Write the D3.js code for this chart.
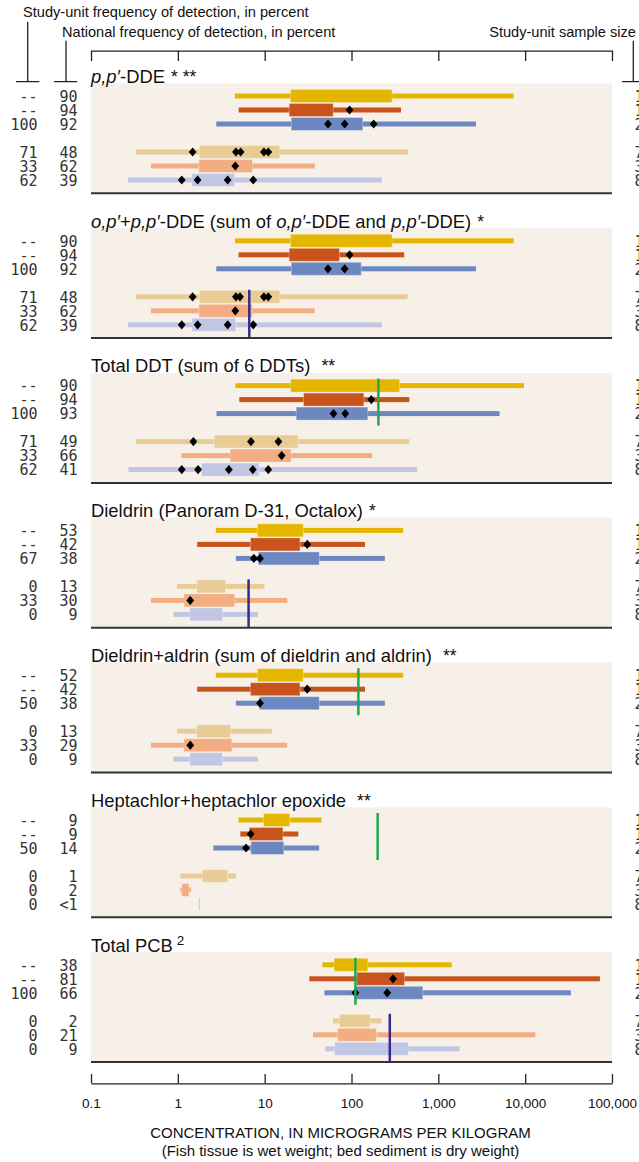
<!DOCTYPE html>
<html>
<head>
<meta charset="utf-8">
<script src="https://cdn.jsdelivr.net/npm/d3@7"></script>
<style>
  body { margin: 0; background: #fff; }
  svg { display: block; }
</style>
</head>
<body>
<svg id="chart" width="639" height="1162"></svg>
<script>
// ---- data ----
// concentration ticks (micrograms per kilogram)
var tickValues = [0.1, 1, 10, 100, 1000, 10000, 100000];

// six rows per panel: three fish tissue rows, then three bed sediment rows
var rowNames = ["Fish, national", "Fish, national 2", "Fish, study unit",
                "Sediment, national", "Sediment, national 2", "Sediment, study unit"];
var rowColors = ["#e4b600", "#c8531c", "#6d88c1", "#e8cc95", "#f2ae82", "#c1c6e4"];

var panelTitles = [
  [["p,p′", true], ["-DDE", false]],
  [["o,p′", true], ["+", false], ["p,p′", true], ["-DDE (sum of ", false], ["o,p′", true],
   ["-DDE and ", false], ["p,p′", true], ["-DDE)", false]],
  [["Total DDT (sum of 6 DDTs)", false]],
  [["Dieldrin (Panoram D-31, Octalox)", false]],
  [["Dieldrin+aldrin (sum of dieldrin and aldrin)", false]],
  [["Heptachlor+heptachlor epoxide", false]],
  [["Total PCB", false]]
];
var panelMarks = ["* **", "*", "**", "*", "**", "**", "2"];

// study-unit and national frequency of detection, percent
var studyFreq = [
  ["--", "--", "100", "71", "33", "62"],
  ["--", "--", "100", "71", "33", "62"],
  ["--", "--", "100", "71", "33", "62"],
  ["--", "--", "67", "0", "33", "0"],
  ["--", "--", "50", "0", "33", "0"],
  ["--", "--", "50", "0", "0", "0"],
  ["--", "--", "100", "0", "0", "0"]
];
var nationalFreq = [
  ["90", "94", "92", "48", "62", "39"],
  ["90", "94", "92", "48", "62", "39"],
  ["90", "94", "93", "49", "66", "41"],
  ["53", "42", "38", "13", "30", "9"],
  ["52", "42", "38", "13", "29", "9"],
  ["9", "9", "14", "1", "2", "<1"],
  ["38", "81", "66", "2", "21", "9"]
];
var sampleSize = ["12", "11", "21", "7", "3", "8"];

// [min, 25th, 75th, max] of detected concentrations
var ppDDE = [[4.55, 20.1, 290, 7360], [5.02, 19.4, 60.7, 371], [2.77, 20.5, 133, 2710],
             [0.327, 1.80, 14.7, 443], [0.49, 1.77, 7.14, 37.7], [0.267, 1.47, 4.43, 224]];
var sumDDE = [[4.55, 20.1, 290, 7360], [5.0, 19.4, 71.7, 405], [2.77, 20.5, 128, 2710],
              [0.327, 1.80, 14.7, 443], [0.49, 1.77, 7.14, 37.7], [0.267, 1.47, 4.59, 224]];
var totalDDT = [[4.6, 20.2, 354, 9680], [5.1, 28.4, 137, 464], [2.79, 23.4, 152, 5070],
                [0.33, 2.66, 23.9, 464], [1.10, 4.05, 19.9, 173], [0.27, 1.90, 8.46, 569]];
var dieldrin = [[2.74, 8.37, 27.5, 394], [1.67, 6.95, 25.2, 143], [4.66, 8.55, 42, 242],
                [0.98, 1.67, 3.52, 9.95], [0.49, 1.19, 4.47, 18.2], [0.89, 1.39, 3.22, 8.37]];
var dieldrinAldrin = [[2.74, 8.37, 27.5, 394], [1.67, 6.95, 25.2, 143], [4.66, 8.83, 42, 242],
                      [0.98, 1.67, 4.0, 12.1], [0.49, 1.19, 4.14, 18.2], [0.89, 1.39, 3.22, 8.37]];
var heptachlor = [[4.98, 9.84, 19.2, 45.2], [5.25, 6.73, 16.0, 24.4], [2.57, 7.03, 16.4, 42.4],
                  [1.07, 1.94, 3.71, 4.66], [1.07, 1.13, 1.33, 1.42], [1.76, 1.76, 1.76, 1.76]];
var totalPCB = [[46.2, 64, 152, 1426], [32.7, 117, 403, 72600], [48.8, 110, 654, 33600],
                [61.1, 73.6, 162, 222], [36, 69.8, 191, 13100], [49.9, 64.7, 444, 1754]];
var panelRanges = [ppDDE, sumDDE, totalDDT, dieldrin, dieldrinAldrin, heptachlor, totalPCB];

// study-unit site values (diamonds)
var sitesDDE = [[], [95], [53.6, 83.4, 180], [1.48, 4.67, 5.29, 9.8, 11.0], [4.59], [1.11, 1.69, 3.75, 7.39]];
var sitesSumDDE = [[], [95], [53.6, 83.4], [1.48, 4.67, 5.2, 9.8, 11.0], [4.59], [1.11, 1.69, 3.75, 7.39]];
var sitesDDT = [[], [169], [62, 84.7], [1.51, 6.95, 14.4], [15.7], [1.11, 1.71, 3.87, 7.3, 11.0]];
var sitesDieldrin = [[], [30.9], [7.51, 8.83], [], [1.39], []];
var sitesDieldrinAldrin = [[], [30.9], [8.83], [], [1.39], []];
var sitesHeptachlor = [[], [6.9], [6.1], [], [], []];
var sitesPCB = [[], [301], [111, 258], [], [], []];
var panelSites = [sitesDDE, sitesSumDDE, sitesDDT, sitesDieldrin, sitesDieldrinAldrin, sitesHeptachlor, sitesPCB];

// guidelines: fish (green) and sediment (purple)
var fishGuide = [null, null, 204, null, 120, 200, 111];
var sedimentGuide = [null, 6.65, null, 6.53, null, null, 276];

// ---- layout ----
var LEFT = 91, RIGHT = 612;
var PANEL0_BOTTOM = 193.3, PANEL_STEP = 144.8, BG_HEIGHT = 110;
var ROW_OFFSETS = [-97.3, -83.3, -69.3, -41.3, -27.3, -13.3];
var BOX_H = 13, WHISKER_H = 5;
var SANS = "'Liberation Sans', Arial, Helvetica, sans-serif";
var MONO = "'DejaVu Sans Mono', monospace";

var svg = d3.select("#chart");
var x = d3.scaleLog().domain([0.1, 100000]).range([LEFT, RIGHT]);

// headers
svg.append("text").attr("x", 23).attr("y", 16.5)
  .attr("font-family", SANS).attr("font-size", 14.6).attr("fill", "#111")
  .text("Study-unit frequency of detection, in percent");
svg.append("text").attr("x", 62).attr("y", 36.5)
  .attr("font-family", SANS).attr("font-size", 14.6).attr("fill", "#111")
  .text("National frequency of detection, in percent");
svg.append("text").attr("x", 636).attr("y", 36.5).attr("text-anchor", "end")
  .attr("font-family", SANS).attr("font-size", 14.6).attr("fill", "#111")
  .text("Study-unit sample size");

var brackets = [[27.7, 21.7, 16, 39.3], [66, 40.7, 54, 77.3], [633.3, 40.7, 622, 645]];
brackets.forEach(function(b) {
  svg.append("path")
    .attr("d", "M" + b[0] + "," + b[1] + "V81.7M" + b[2] + ",81.7H" + b[3])
    .attr("stroke", "#222").attr("stroke-width", 1.3).attr("fill", "none");
});

// top axis (ticks only)
var topAxis = svg.append("g").attr("transform", "translate(0,50.7)")
  .call(d3.axisBottom(x).tickValues(tickValues).tickSize(10.3).tickSizeOuter(0).tickFormat(""));
topAxis.selectAll("path, line").attr("stroke", "#222").attr("stroke-width", 1.3);

var diamond = "M0,-4.6L3.9,0L0,4.6L-3.9,0Z";

panelRanges.forEach(function(ranges, p) {
  var bottom = PANEL0_BOTTOM + p * PANEL_STEP;
  var top = bottom - BG_HEIGHT;
  var g = svg.append("g");

  g.append("rect").attr("x", LEFT).attr("y", top)
    .attr("width", RIGHT - LEFT).attr("height", BG_HEIGHT).attr("fill", "#f7f0e8");

  // title
  var title = g.append("text").attr("x", LEFT).attr("y", top - 0.5)
    .attr("font-family", SANS).attr("font-size", 18.4).attr("fill", "#111");
  panelTitles[p].forEach(function(part) {
    title.append("tspan").attr("font-style", part[1] ? "italic" : "normal").text(part[0]);
  });
  if (panelMarks[p] === "2") {
    title.append("tspan").attr("dx", 4).attr("dy", -7).attr("font-size", 13.5).text("2");
  } else {
    title.append("tspan").attr("dx", panelMarks[p] === "**" ? 11 : 6)
      .attr("font-size", 17.5).text(panelMarks[p]);
  }

  ranges.forEach(function(r, i) {
    var cy = bottom + ROW_OFFSETS[i];
    var col = rowColors[i];
    g.append("rect")
      .attr("x", x(r[0])).attr("y", cy - WHISKER_H / 2)
      .attr("width", Math.max(x(r[3]) - x(r[0]), 0)).attr("height", WHISKER_H)
      .attr("fill", col);
    g.append("rect")
      .attr("x", x(r[1]) - 0.5).attr("y", cy - BOX_H / 2)
      .attr("width", Math.max(x(r[2]) - x(r[1]) + 1, 1.5)).attr("height", BOX_H)
      .attr("fill", col)
      .attr("stroke", "rgba(255,255,255,0.3)").attr("stroke-width", 1);

    g.selectAll(null).data(panelSites[p][i]).enter().append("path")
      .attr("d", diamond)
      .attr("transform", function(d) { return "translate(" + x(d) + "," + cy + ")"; })
      .attr("fill", "#000");

    g.append("text").attr("x", 37.5).attr("y", cy + 5.7).attr("text-anchor", "end")
      .attr("font-family", MONO).attr("font-size", 15).attr("fill", "#333")
      .text(studyFreq[p][i]);
    g.append("text").attr("x", 77.5).attr("y", cy + 5.7).attr("text-anchor", "end")
      .attr("font-family", MONO).attr("font-size", 15).attr("fill", "#333")
      .text(nationalFreq[p][i]);
    g.append("text").attr("x", 634.5).attr("y", cy + 5.7)
      .attr("font-family", MONO).attr("font-size", 15).attr("fill", "#333")
      .text(sampleSize[i]);
  });

  if (fishGuide[p] != null) {
    g.append("line")
      .attr("x1", x(fishGuide[p])).attr("x2", x(fishGuide[p]))
      .attr("y1", bottom + ROW_OFFSETS[0] - 7).attr("y2", bottom + ROW_OFFSETS[2] + 12)
      .attr("stroke", "#1fa84f").attr("stroke-width", 2.5);
  }
  if (sedimentGuide[p] != null) {
    g.append("line")
      .attr("x1", x(sedimentGuide[p])).attr("x2", x(sedimentGuide[p]))
      .attr("y1", bottom + ROW_OFFSETS[3] - 7).attr("y2", bottom)
      .attr("stroke", "#3b2a8c").attr("stroke-width", 2.5);
  }

  g.append("line").attr("x1", LEFT).attr("x2", RIGHT).attr("y1", bottom).attr("y2", bottom)
    .attr("stroke", "#333").attr("stroke-width", 2);
});

// bottom axis
var bottomAxis = svg.append("g").attr("transform", "translate(0,1083.3)")
  .call(d3.axisBottom(x).tickValues(tickValues).tickSizeInner(-9.3).tickSizeOuter(0)
    .tickPadding(15).tickFormat(d3.format(",")));
bottomAxis.selectAll("path, line").attr("stroke", "#222").attr("stroke-width", 1.3);
bottomAxis.selectAll("text").attr("font-family", SANS).attr("font-size", 13.5).attr("fill", "#111");

svg.append("text").attr("x", 340.5).attr("y", 1138.3).attr("text-anchor", "middle")
  .attr("font-family", SANS).attr("font-size", 15).attr("fill", "#111")
  .text("CONCENTRATION, IN MICROGRAMS PER KILOGRAM");
svg.append("text").attr("x", 340.5).attr("y", 1155.5).attr("text-anchor", "middle")
  .attr("font-family", SANS).attr("font-size", 15).attr("fill", "#111")
  .text("(Fish tissue is wet weight; bed sediment is dry weight)");
</script>
</body>
</html>
